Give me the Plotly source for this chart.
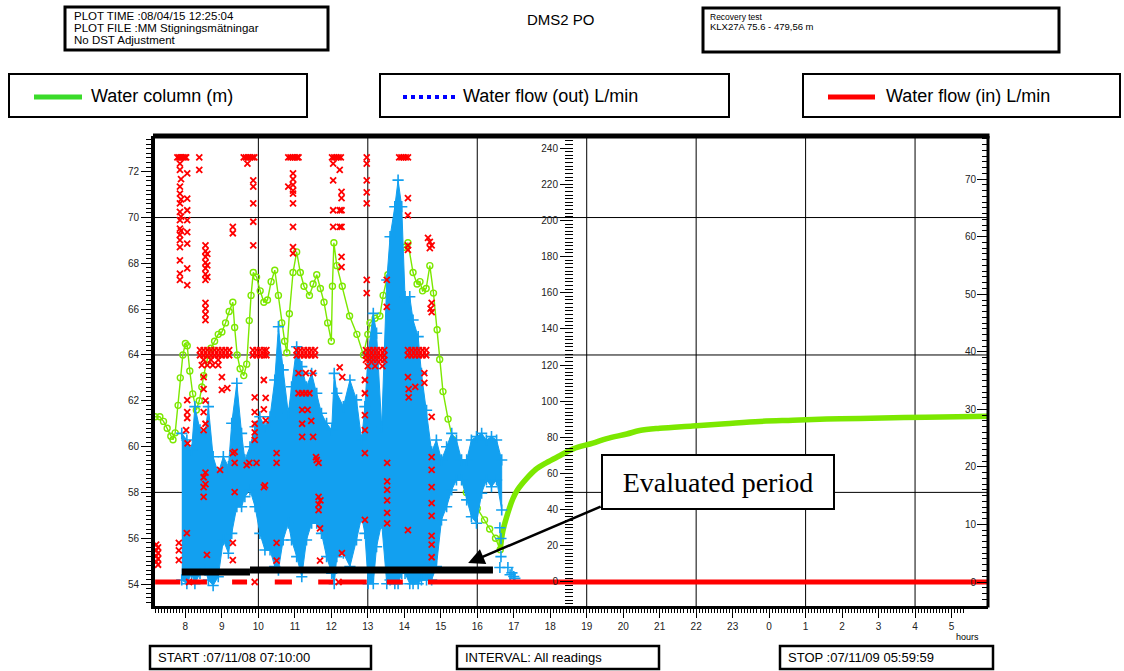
import datetime as dt
import plotly.graph_objects as go

# ---------------- data ----------------
# time is given in hours after midnight 2007-11-08 (values > 24 are on the next day)
start_h = 7 + 10 / 60
stop_h = 29 + 59 / 60 + 59 / 3600
grid_hours = [10, 13, 16, 19, 22, 25, 28]
grid_levels = [58, 64, 70]

# Water column (m) during pumping
green_t = [7.17, 7.30, 7.40, 7.50, 7.60, 7.66, 7.72, 7.80, 7.86, 7.93, 8.00, 8.05, 8.12, 8.20, 8.30, 8.38,
           8.45, 8.50, 8.60, 8.70, 8.80, 8.90, 9.00, 9.10, 9.20, 9.30, 9.35, 9.42, 9.50, 9.60, 9.68, 9.75,
           9.80, 9.86, 9.95, 10.05, 10.15, 10.25, 10.35, 10.45, 10.55, 10.64, 10.72, 10.78, 10.85, 10.95,
           11.05, 11.15, 11.25, 11.40, 11.50, 11.60, 11.70, 11.80, 11.90, 12.00, 12.03, 12.07, 12.15, 12.30,
           12.50, 12.70, 12.88, 13.00, 13.06, 13.20, 13.33, 13.42, 13.55, 13.70, 13.85, 14.00, 14.10, 14.24,
           14.35, 14.43, 14.50, 14.60, 14.70, 14.80, 14.90, 14.97, 15.06, 15.20, 15.33, 15.50, 15.70, 16.00,
           16.20, 16.34, 16.50, 16.63]
green_v = [61.3, 61.3, 61.1, 60.8, 60.45, 60.3, 60.6, 61.8, 63.0, 64.0, 64.5, 64.4, 63.3, 62.3, 61.6, 62.0,
           62.6, 63.1, 63.8, 64.3, 64.6, 64.9, 65.0, 65.4, 65.9, 66.3, 65.2, 64.0, 63.4, 63.1, 63.6, 65.5,
           66.6, 67.6, 67.4, 66.8, 66.3, 66.4, 67.2, 67.7, 66.6, 65.4, 64.6, 64.1, 65.8, 67.6,
           68.5, 67.6, 67.0, 66.6, 67.1, 67.5, 66.9, 66.3, 65.4, 64.6, 67.0, 68.9, 67.9, 67.0,
           65.7, 64.9, 64.0, 64.9, 65.4, 65.6, 65.7, 66.6, 67.5, 68.3, 68.6, 68.7, 68.9, 67.6,
           67.1, 67.2, 66.8, 66.9, 67.9, 66.7, 65.1, 63.8, 62.4, 61.2, 60.3, 58.8, 58.0, 57.3,
           56.8, 56.4, 56.0, 55.5]

# Water column (m) during recovery
rec_t = [16.63, 16.70, 16.80, 16.97, 17.10, 17.35, 17.60, 17.90, 18.26, 18.63, 19.17, 19.55, 20.10, 20.45,
         21.00, 21.90, 22.80, 23.74, 24.65, 25.57, 26.50, 27.40, 28.30, 30.00]
rec_v = [55.5, 56.3, 56.9, 57.7, 58.1, 58.6, 59.0, 59.3, 59.6, 59.9, 60.15, 60.35, 60.55, 60.7,
         60.8, 60.9, 61.0, 61.1, 61.15, 61.2, 61.23, 61.26, 61.28, 61.32]

# Water flow (out) L/min : upper / lower edge of the reading cloud
blue_t = [7.90, 8.04, 8.17, 8.26, 8.40, 8.54, 8.63, 8.76, 8.90, 9.04, 9.18, 9.27, 9.41, 9.54, 9.63, 9.77,
          9.91, 10.04, 10.18, 10.32, 10.45, 10.55, 10.68, 10.82, 10.91, 11.05, 11.19, 11.32, 11.46, 11.60,
          11.73, 11.87, 12.01, 12.08, 12.15, 12.33, 12.51, 12.69, 12.83, 12.92, 13.01, 13.15, 13.24, 13.38,
          13.52, 13.61, 13.74, 13.83, 13.93, 14.02, 14.15, 14.24, 14.38, 14.47, 14.61, 14.75, 14.88, 15.02,
          15.16, 15.30, 15.43, 15.57, 15.71, 15.84, 15.98, 16.12, 16.25, 16.39, 16.53, 16.67]
blue_hi = [82.2, 78.5, 73.0, 97.0, 84.1, 82.2, 97.0, 69.3, 60.1, 69.3, 63.8, 87.8, 109.9, 82.2, 67.5, 74.8,
           85.9, 91.4, 85.9, 91.4, 111.7, 141.2, 117.3, 93.3, 108.0, 130.1, 119.1, 108.0, 115.4, 104.4,
           93.3, 87.8, 84.1, 115.4, 104.4, 97.0, 111.7, 100.7, 78.5, 97.0, 126.5, 148.6, 137.6, 85.9,
           167.0, 191.0, 207.6, 222.3, 207.6, 157.8, 157.8, 144.9, 135.7, 115.4, 95.0, 72.0, 78.5, 67.5,
           74.8, 82.2, 78.5, 67.5, 67.5, 78.5, 80.4, 82.2, 78.5, 80.4, 78.5, 67.5]
blue_lo = [1.1, -1.0, 4.8, -1.0, 4.8, 6.6, 1.1, -2.0, 2.9, 23.2, 15.9, 26.9, 41.6, 41.6, 47.2, 50.9,
           41.6, 26.9, 17.7, 17.7, 8.5, 6.6, 23.2, 32.5, 23.2, 14.0, 2.9, 23.2, 32.5, 32.5,
           26.9, 14.0, 4.8, -1.0, 14.0, 15.9, 8.5, 23.2, 36.1, 26.9, -1.0, -1.0, 19.5, 32.5,
           -1.0, 1.1, -1.0, -1.0, 4.8, 4.8, -1.0, -1.0, -1.0, 1.1, 1.1, 1.1, 8.5, 34.3,
           41.6, 50.9, 56.4, 56.4, 45.4, 36.1, 32.5, 49.1, 56.4, 52.7, 56.4, 39.8]
blue_tail_t = [16.62, 16.65, 16.65, 16.62, 16.84, 16.90, 16.95, 17.00, 17.03]
blue_tail_v = [30.0, 24.0, 14.0, 8.0, 8.0, 4.0, 5.0, 3.0, 2.0]

# Water flow (in) L/min : individual readings (hour, L/min)
red_pts = [
    (7.78, 73.8), (7.83, 73.8), (7.88, 73.8), (7.93, 73.8), (7.98, 73.8), (8.02, 73.8), (8.38, 73.8),
    (9.60, 73.8), (9.66, 73.8), (9.72, 73.8), (9.78, 73.8), (9.84, 73.8), (9.89, 73.8),
    (10.82, 73.8), (10.88, 73.8), (10.94, 73.8), (11.00, 73.8), (11.06, 73.8), (11.10, 73.8),
    (12.02, 73.8), (12.08, 73.8), (12.14, 73.8), (12.20, 73.8), (12.26, 73.8), (12.97, 73.8),
    (13.86, 73.8), (13.92, 73.8), (13.98, 73.8), (14.04, 73.8), (14.10, 73.8),
    (7.85, 72.7), (7.85, 71.6), (7.85, 68.7), (7.85, 67.5), (7.85, 65.8), (7.85, 64.3), (7.85, 62.9),
    (7.85, 61.4), (7.85, 60.3), (7.85, 59.4), (7.85, 58.2), (7.85, 55.9), (7.85, 53.6), (7.85, 52.5),
    (7.88, 70.0), (7.88, 66.5), (7.88, 63.5), (7.88, 61.0),
    (8.05, 71.0), (8.05, 66.6), (8.05, 64.6), (8.05, 62.9), (8.05, 60.8), (8.05, 58.8), (8.05, 54.5),
    (8.05, 51.6), (8.38, 71.6),
    (8.55, 58.5), (8.55, 57.5), (8.55, 56.5), (8.55, 55.5), (8.55, 54.5), (8.55, 53.5), (8.55, 52.5),
    (8.55, 48.5), (8.55, 47.5), (8.55, 46.5), (8.55, 45.5), (8.60, 57.0), (8.60, 55.0), (8.60, 53.0),
    (9.30, 61.7), (9.30, 60.6), (9.70, 72.7),
    (9.86, 69.8), (9.86, 68.7), (9.86, 65.8), (9.86, 62.6), (9.86, 58.5),
    (10.95, 71.0), (10.95, 70.0), (10.95, 69.0), (10.95, 68.0), (10.95, 67.5), (10.95, 65.8),
    (10.95, 61.7), (10.95, 58.2), (10.95, 57.1), (10.82, 68.7),
    (12.05, 72.7), (12.05, 69.8), (12.05, 64.6), (12.05, 61.7),
    (12.23, 71.6), (12.23, 64.6), (12.23, 61.7),
    (12.28, 67.8), (12.28, 66.7), (12.28, 64.6), (12.28, 61.7), (12.28, 56.5), (12.28, 54.7),
    (12.97, 72.7), (12.97, 69.8), (12.97, 67.7), (12.97, 65.8), (12.97, 52.5), (12.97, 50.2),
    (13.52, 52.5), (13.52, 47.8),
    (14.10, 66.7), (14.10, 63.7), (14.10, 58.5), (14.10, 57.7),
    (14.65, 59.8), (14.70, 59.1), (14.75, 58.5), (14.70, 58.0), (14.75, 48.5), (14.72, 47.5), (14.75, 46.9),
    (8.40, 40.3), (8.50, 40.3), (8.60, 40.3), (8.70, 40.3), (8.80, 40.3), (8.90, 40.3), (9.00, 40.3),
    (9.10, 40.3), (9.20, 40.3), (8.40, 39.4), (8.50, 39.4), (8.60, 39.4), (8.70, 39.4), (8.80, 39.4),
    (8.90, 39.4), (9.00, 39.4), (9.10, 39.4), (9.20, 39.4), (8.50, 38.6), (8.70, 38.6), (8.90, 38.6),
    (9.85, 40.3), (9.95, 40.3), (10.05, 40.3), (10.15, 40.3), (10.22, 40.3),
    (9.85, 39.4), (9.95, 39.4), (10.05, 39.4), (10.15, 39.4), (10.22, 39.4),
    (11.05, 40.3), (11.15, 40.3), (11.25, 40.3), (11.35, 40.3), (11.45, 40.3), (11.55, 40.3),
    (11.05, 39.4), (11.15, 39.4), (11.25, 39.4), (11.35, 39.4), (11.45, 39.4), (11.55, 39.4),
    (12.95, 40.3), (13.05, 40.3), (13.15, 40.3), (13.25, 40.3), (13.35, 40.3), (13.45, 40.3),
    (12.95, 39.4), (13.05, 39.4), (13.15, 39.4), (13.25, 39.4), (13.35, 39.4), (13.45, 39.4),
    (12.95, 38.6), (13.05, 38.6), (13.15, 38.6), (13.25, 38.6), (13.35, 38.6), (13.45, 38.6),
    (14.10, 40.3), (14.20, 40.3), (14.30, 40.3), (14.40, 40.3), (14.50, 40.3), (14.60, 40.3),
    (14.10, 39.4), (14.20, 39.4), (14.30, 39.4), (14.40, 39.4), (14.50, 39.4), (14.60, 39.4),
    (8.45, 37.7), (8.60, 37.7), (8.75, 37.7), (8.90, 37.7),
    (11.10, 36.3), (11.30, 36.3), (11.50, 36.3), (11.10, 32.8), (11.20, 32.8), (11.30, 32.8), (11.40, 32.8),
    (13.00, 37.5), (13.20, 37.5), (13.40, 37.5),
    (8.05, 31.6), (8.05, 29.5), (8.05, 28.5), (8.02, 26.4), (8.06, 24.1),
    (8.50, 35.6), (8.50, 33.5), (8.55, 31.5), (8.50, 29.5), (8.55, 27.5), (8.50, 26.4),
    (8.50, 18.2), (8.50, 16.5), (8.50, 14.8), (8.95, 19.5), (9.00, 35.6), (9.00, 33.4), (9.15, 33.7),
    (9.35, 22.6), (9.35, 20.7), (9.35, 15.6), (9.68, 20.3),
    (9.90, 32.1), (9.90, 29.5), (9.90, 27.5), (9.90, 26.0), (9.90, 24.7),
    (10.15, 35.1), (10.20, 32.0), (10.15, 30.0), (10.20, 28.1), (10.18, 16.8),
    (10.50, 22.4), (10.50, 20.7),
    (11.20, 29.9), (11.20, 27.5), (11.20, 25.2), (11.35, 29.9), (11.45, 28.0), (11.50, 25.2),
    (11.58, 21.7), (11.65, 20.7), (11.65, 14.8), (11.65, 13.5), (11.65, 12.5),
    (12.23, 37.3), (12.30, 35.6),
    (12.92, 35.1), (12.92, 32.8), (12.92, 29.0), (12.92, 26.4), (12.92, 22.4), (12.92, 10.8),
    (13.53, 20.7), (13.53, 17.5), (13.53, 16.0), (13.53, 14.2), (13.53, 12.0), (13.53, 10.2),
    (14.10, 35.6), (14.12, 33.5), (14.12, 32.1), (14.10, 9.0), (14.30, 33.9), (14.55, 36.3), (14.55, 34.6),
    (14.75, 28.7), (14.75, 21.7), (14.75, 19.5), (14.75, 16.5), (14.75, 13.7), (14.75, 11.5),
    (14.75, 8.0), (14.75, 6.5), (14.75, 4.3),
    (8.55, 19.0), (8.55, 17.0), (9.30, 22.4), (9.75, 20.7), (9.95, 20.7), (10.15, 16.5),
    (11.60, 21.2), (11.70, 14.2),
    (7.20, 6.5), (7.20, 5.5), (7.20, 4.5), (7.20, 3.5), (7.25, 6.0), (7.25, 5.0), (7.25, 4.0), (7.25, 3.0),
    (7.82, 6.8), (7.82, 5.5), (7.82, 3.8), (8.04, 8.5), (8.59, 4.7), (9.30, 6.8), (9.30, 3.8),
    (10.50, 6.8), (10.50, 3.7), (11.69, 9.3), (11.69, 3.7), (12.29, 5.0),
    (8.10, 0.0), (9.90, 0.0), (12.20, 0.0),
]
red_t = [p[0] for p in red_pts]
red_v = [p[1] for p in red_pts]

# Water flow (in) zero readings (line segments, None = gap)
zero_t = [7.17, 7.86, None, 8.04, 8.59, None, 9.28, 9.69, None, 10.45, 10.92, None, 11.64, 12.05, None,
          12.23, 12.97, None, 13.52, 13.96, None, 14.65, 30.0]
zero_v = [0, 0, None, 0, 0, None, 0, 0, None, 0, 0, None, 0, 0, None, 0, 0, None, 0, 0, None, 0, 0]

# Evaluated period bar (hours, L/min level)
eval_t = [7.90, 9.77, None, 9.77, 16.43]
eval_v = [5.5, 5.5, None, 6.6, 6.6]
arrow_tip = (15.75, 10.5)

assert len(green_t) == len(green_v)
assert len(rec_t) == len(rec_v)
assert len(blue_t) == len(blue_hi) == len(blue_lo)

# ---------------- time conversion ----------------
BASE = dt.datetime(2007, 11, 8)


def T(h):
    return None if h is None else BASE + dt.timedelta(hours=h)


def TL(hs):
    return [T(h) for h in hs]


# ---------------- layout helpers ----------------
W, H = 1124, 671
L, R, TOP, B = 155, 988, 136, 606


def px(x):
    return (x - L) / (R - L)


def py(y):
    return (B - y) / (B - TOP)


FONT = "Liberation Sans, Arial, sans-serif"
GREEN = "#7CE800"
BLUE = "#12A0F0"
RED = "#FF0000"

fig = go.Figure()

# blue cloud
fig.add_trace(go.Scatter(
    x=TL(blue_t + blue_t[::-1]), y=blue_hi + blue_lo[::-1], yaxis="y2",
    mode="lines", fill="toself", fillcolor=BLUE, line=dict(color=BLUE, width=1),
    hoverinfo="skip"))
fig.add_trace(go.Scatter(
    x=TL(blue_t + blue_t + blue_tail_t), y=blue_hi + blue_lo + blue_tail_v, yaxis="y2",
    mode="markers", marker=dict(symbol="cross-thin-open", size=8, color=BLUE,
                                line=dict(color=BLUE, width=1.6)),
    hoverinfo="skip"))

# green water column
fig.add_trace(go.Scatter(
    x=TL(green_t), y=green_v, yaxis="y", mode="lines+markers",
    line=dict(color=GREEN, width=1.4),
    marker=dict(symbol="circle-open", size=6, color=GREEN, line=dict(color=GREEN, width=1.4)),
    hoverinfo="skip"))
fig.add_trace(go.Scatter(
    x=TL(rec_t), y=rec_v, yaxis="y", mode="lines",
    line=dict(color=GREEN, width=5.5, shape="spline"), hoverinfo="skip"))

# evaluated period bar
fig.add_trace(go.Scatter(
    x=TL(eval_t), y=eval_v, yaxis="y2", mode="lines",
    line=dict(color="black", width=7), hoverinfo="skip"))

# red water flow in
fig.add_trace(go.Scatter(
    x=TL(zero_t), y=zero_v, yaxis="y3", mode="lines", connectgaps=False,
    line=dict(color=RED, width=5), hoverinfo="skip"))
fig.add_trace(go.Scatter(
    x=TL(red_t), y=red_v, yaxis="y3", mode="markers",
    marker=dict(symbol="x-thin", size=6, color=RED, line=dict(color=RED, width=1.8)),
    hoverinfo="skip"))

tickfont = dict(family=FONT, size=10, color="#222")
HOUR_MS = 3600000

fig.update_layout(
    width=W, height=H,
    margin=dict(l=L, r=W - R, t=TOP, b=H - B, pad=0),
    paper_bgcolor="white", plot_bgcolor="white",
    showlegend=False,
    xaxis=dict(
        type="date", range=[T(start_h), T(stop_h)],
        tickmode="linear", tick0=T(8), dtick=HOUR_MS, tickformat="%-H",
        ticks="outside", ticklen=9, tickwidth=1, tickcolor="black",
        minor=dict(tickmode="linear", tick0=T(8), dtick=HOUR_MS / 12, ticklen=4, ticks="outside",
                   tickcolor="black", tickwidth=1),
        showline=True, linewidth=3, linecolor="black", mirror=False,
        showgrid=False, zeroline=False, tickfont=tickfont),
    yaxis=dict(
        range=[53.04, 73.56], tickmode="linear", tick0=54, dtick=2,
        ticks="outside", ticklen=10, tickwidth=1, tickcolor="black",
        minor=dict(tickmode="linear", tick0=0, dtick=0.2, ticklen=5, ticks="outside",
                   tickcolor="black", tickwidth=1),
        showline=True, linewidth=4, linecolor="black", mirror=False,
        showgrid=False, zeroline=False, tickfont=tickfont),
    yaxis2=dict(
        range=[-13.3, 246.7], overlaying="y", anchor="free", position=px(573), side="left",
        tickmode="linear", tick0=0, dtick=20,
        ticks="outside", ticklen=13, tickwidth=1, tickcolor="black",
        minor=dict(tickmode="linear", tick0=0, dtick=2, ticklen=8, ticks="outside",
                   tickcolor="black", tickwidth=1),
        showline=False, showgrid=False, zeroline=False, tickfont=tickfont),
    yaxis3=dict(
        range=[-4.17, 77.5], overlaying="y", anchor="x", side="right",
        tickmode="linear", tick0=0, dtick=10,
        ticks="inside", ticklabelposition="inside", ticklen=11, tickwidth=1, tickcolor="black",
        minor=dict(tickmode="linear", tick0=0, dtick=1, ticklen=6, ticks="inside",
                   tickcolor="black", tickwidth=1),
        showline=False, showgrid=False, zeroline=False, tickfont=tickfont),
)

shapes = []
annots = []

# grid lines at the reference grid positions
for gh in grid_hours:
    shapes.append(dict(type="line", xref="x", yref="paper", x0=T(gh), x1=T(gh), y0=0, y1=1,
                       line=dict(color="black", width=1), layer="below"))
for gl in grid_levels:
    shapes.append(dict(type="line", xref="paper", yref="y", x0=0, x1=1, y0=gl, y1=gl,
                       line=dict(color="black", width=1), layer="below"))


def box(x0, y0, x1, y1, w=2.5):
    shapes.append(dict(type="rect", xref="paper", yref="paper", x0=px(x0), x1=px(x1),
                       y0=py(y1), y1=py(y0), line=dict(color="black", width=w),
                       fillcolor="rgba(0,0,0,0)", layer="above"))


def text(x, y, s, size, anchor="left", family=FONT, color="black"):
    annots.append(dict(xref="paper", yref="paper", x=px(x), y=py(y), text=s, showarrow=False,
                       xanchor=anchor, yanchor="middle", font=dict(family=family, size=size, color=color)))


def hline(x0, x1, y, color, w, dash="solid"):
    shapes.append(dict(type="line", xref="paper", yref="paper", x0=px(x0), x1=px(x1),
                       y0=py(y), y1=py(y), line=dict(color=color, width=w, dash=dash)))


def vline(x, y0, y1, color, w):
    shapes.append(dict(type="line", xref="paper", yref="paper", x0=px(x), x1=px(x),
                       y0=py(y0), y1=py(y1), line=dict(color=color, width=w)))


# plot frame: thick top edge and right edge
hline(L - 2, R + 1.5, TOP, "black", 5)
vline(R, TOP, B + 1.5, "black", 3)

# header
box(65, 7, 328, 50, 3)
text(72, 16, "PLOT TIME :08/04/15 12:25:04", 11.5)
text(72, 28, "PLOT FILE :MM Stigningsmätningar", 11.5)
text(72, 40, "No DST Adjustment", 11.5)
text(561, 19, "DMS2 PO", 15, anchor="center")
box(703, 8, 1059, 52, 3)
text(708, 17, "Recovery test", 8.5)
text(708, 26, "KLX27A 75.6 - 479,56 m", 9.5)

# legend boxes
box(9, 74, 307, 117, 2)
hline(34, 82, 97, "#3ADB2A", 5)
text(89, 96, "Water column (m)", 18)
box(380, 74, 729, 117, 2)
hline(403, 455, 97, "#0000FF", 4, "dot")
text(461, 96, "Water flow (out) L/min", 18)
box(803, 74, 1120, 117, 2)
hline(828, 875, 97, RED, 5)
text(884, 96, "Water flow (in) L/min", 18)

# bottom boxes
box(150, 646, 371, 669, 2.5)
text(156, 657, "START :07/11/08 07:10:00", 13)
box(457, 646, 659, 669, 2.5)
text(463, 657, "INTERVAL: All readings", 13)
box(780, 646, 993, 669, 2.5)
text(786, 657, "STOP :07/11/09 05:59:59", 13)
text(967, 637, "hours", 9, anchor="center")

# evaluated period label + arrow
annots.append(dict(xref="paper", yref="paper", x=px(718), y=py(482), text="Evaluated period",
                   showarrow=False, xanchor="center", yanchor="middle",
                   font=dict(family="Liberation Serif, Times New Roman, serif", size=28, color="black"),
                   bgcolor="white", bordercolor="black", borderwidth=2, borderpad=2,
                   width=226, height=48))
annots.append(dict(xref="x", yref="y2", x=T(arrow_tip[0]), y=arrow_tip[1], text="",
                   showarrow=True, ax=134, ay=-57, axref="pixel", ayref="pixel",
                   arrowhead=2, arrowsize=1.3, arrowwidth=2.5, arrowcolor="black"))

fig.update_layout(shapes=shapes, annotations=annots)
fig.write_html("out.html")
